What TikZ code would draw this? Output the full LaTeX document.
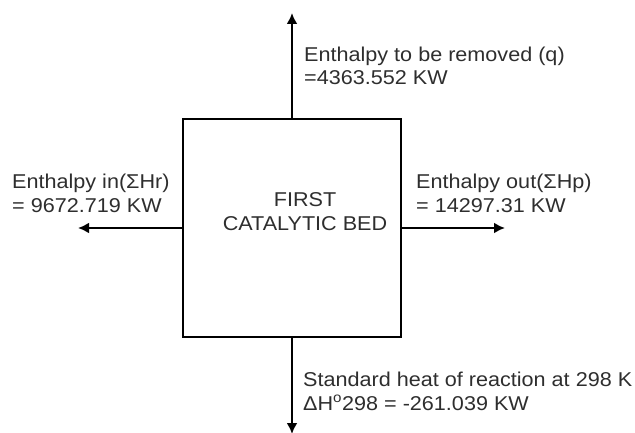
\documentclass[tikz,border=0pt]{standalone}
\usepackage{fontspec}
\setmainfont[FakeStretch=1.08]{Liberation Sans}
\usetikzlibrary{arrows.meta}
\begin{document}
\begin{tikzpicture}[x=1pt,y=-1pt,
  line/.style={line width=2.8pt,draw=black},
  arr/.style={line width=2.8pt,draw=black,-{Latex[length=11pt,width=11pt]}},
  lbl/.style={text=black!82,font=\fontsize{20}{23.5}\selectfont,align=left,inner sep=0pt,anchor=base west}]
\useasboundingbox (0,0) rectangle (635,433);
\node[line, minimum width=218pt, minimum height=218pt, inner sep=0pt] (bed) at (292,228) {};
\node[text=black!82,font=\fontsize{20}{23.5}\selectfont,align=center,inner sep=0pt,anchor=base] (bedtxt) at (305,230) {FIRST\\CATALYTIC BED};
\coordinate (ttip) at (292,13);
\coordinate (btip) at (292,434);
\coordinate (ltip) at (78,228);
\coordinate (rtip) at (505,228);
\draw[arr] (bed.north) -- (ttip);
\draw[arr] (bed.south) -- (btip);
\draw[arr] (bed.west) -- (ltip);
\draw[arr] (bed.east) -- (rtip);
\node[lbl] (qlbl) at (304,85) {Enthalpy to be removed (q)\\=4363.552 KW};
\node[lbl] (inlbl) at (12,212) {Enthalpy in(ΣHr)\\= 9672.719 KW};
\node[lbl] (outlbl) at (416,212) {Enthalpy out(ΣHp)\\= 14297.31 KW};
\node[lbl] (hlbl) at (303,410) {Standard heat of reaction at 298 K\\ΔH\textsuperscript{o}298 = -261.039 KW};
\end{tikzpicture}
\end{document}
